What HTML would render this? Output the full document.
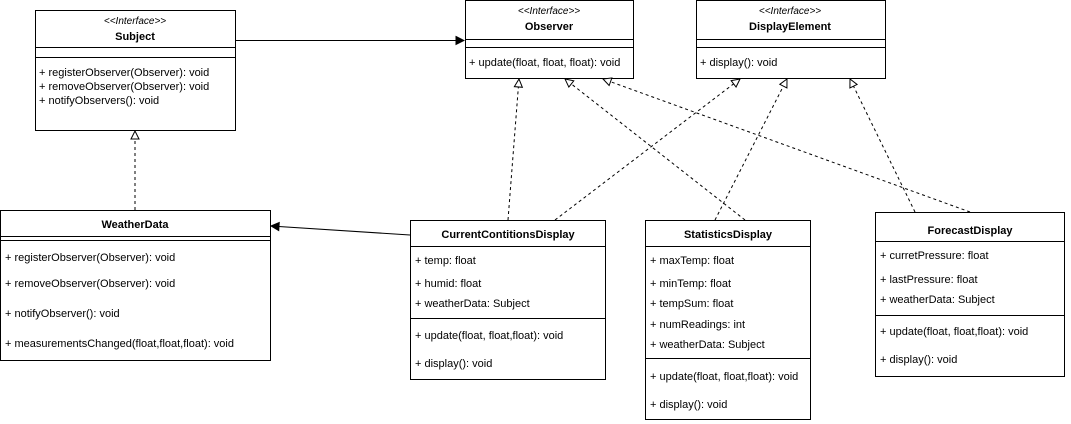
<!DOCTYPE html>
<html><head><meta charset="utf-8"><style>
body{margin:0;background:#fff;}
svg{display:block;font-family:"Liberation Sans",Arial,sans-serif;font-size:11px;}
</style></head><body>
<svg width="1071" height="424" viewBox="0 0 1071 424">
<defs>
<marker id="tri" markerWidth="10" markerHeight="10" refX="9" refY="5" orient="auto" markerUnits="userSpaceOnUse"><path d="M1,1 L9,5 L1,9 Z" fill="#fff" stroke="#000"/></marker>
<marker id="fill" markerWidth="10" markerHeight="10" refX="9" refY="5" orient="auto" markerUnits="userSpaceOnUse"><path d="M1,1 L9,5 L1,9 Z" fill="#000" stroke="#000"/></marker>
</defs>
<g fill="#fff" stroke="#000" stroke-width="1">
<rect x="35.5" y="10.5" width="200" height="120"/>
<rect x="465.5" y="0.5" width="168" height="78"/>
<rect x="696.5" y="0.5" width="189" height="78"/>
<rect x="0.5" y="210.5" width="270" height="150"/>
<rect x="410.5" y="220.5" width="195" height="159"/>
<rect x="645.5" y="220.5" width="165" height="199"/>
<rect x="875.5" y="212.5" width="189" height="164"/>
</g>
<g stroke="#000" stroke-width="1">
<line x1="35" y1="47.5" x2="235" y2="47.5"/><line x1="35" y1="57.5" x2="235" y2="57.5"/>
<line x1="465" y1="39.5" x2="633" y2="39.5"/><line x1="465" y1="47.5" x2="633" y2="47.5"/>
<line x1="696" y1="39.5" x2="885" y2="39.5"/><line x1="696" y1="47.5" x2="885" y2="47.5"/>
<line x1="0" y1="236.5" x2="270" y2="236.5"/><line x1="0" y1="240.5" x2="270" y2="240.5"/>
<line x1="410" y1="246.5" x2="605" y2="246.5"/><line x1="410" y1="318.5" x2="605" y2="318.5"/>
<line x1="645" y1="246.5" x2="810" y2="246.5"/><line x1="645" y1="358.5" x2="810" y2="358.5"/>
<line x1="875" y1="241.5" x2="1064" y2="241.5"/><line x1="875" y1="315.5" x2="1064" y2="315.5"/>
<line x1="235" y1="40.5" x2="464" y2="40.5" marker-end="url(#fill)"/>
<line x1="410" y1="235" x2="271" y2="226" marker-end="url(#fill)"/>
</g>
<g stroke="#000" stroke-width="1" stroke-dasharray="3,3" fill="none">
<line x1="135" y1="210" x2="135" y2="131" marker-end="url(#tri)"/>
<line x1="508" y1="220" x2="519" y2="79" marker-end="url(#tri)"/>
<line x1="745" y1="220" x2="565" y2="79" marker-end="url(#tri)"/>
<line x1="970" y1="212" x2="603" y2="79" marker-end="url(#tri)"/>
<line x1="555" y1="220" x2="740" y2="79" marker-end="url(#tri)"/>
<line x1="715" y1="220" x2="787" y2="79" marker-end="url(#tri)"/>
<line x1="915" y1="212" x2="850" y2="79" marker-end="url(#tri)"/>
</g>
<g fill="#000">
<text x="135" y="24" text-anchor="middle" font-style="italic" font-size="10">&lt;&lt;Interface&gt;&gt;</text>
<text x="135" y="40" text-anchor="middle" font-weight="bold">Subject</text>
<text x="39" y="76">+ registerObserver(Observer): void</text>
<text x="39" y="90">+ removeObserver(Observer): void</text>
<text x="39" y="104">+ notifyObservers(): void</text>
<text x="549" y="14" text-anchor="middle" font-style="italic" font-size="10">&lt;&lt;Interface&gt;&gt;</text>
<text x="549" y="30" text-anchor="middle" font-weight="bold">Observer</text>
<text x="469" y="66">+ update(float, float, float): void</text>
<text x="790" y="14" text-anchor="middle" font-style="italic" font-size="10">&lt;&lt;Interface&gt;&gt;</text>
<text x="790" y="30" text-anchor="middle" font-weight="bold">DisplayElement</text>
<text x="700" y="66">+ display(): void</text>
<text x="135" y="228" text-anchor="middle" font-weight="bold">WeatherData</text>
<text x="5" y="261">+ registerObserver(Observer): void</text>
<text x="5" y="287">+ removeObserver(Observer): void</text>
<text x="5" y="317">+ notifyObserver(): void</text>
<text x="5" y="347">+ measurementsChanged(float,float,float): void</text>
<text x="508" y="238" text-anchor="middle" font-weight="bold">CurrentContitionsDisplay</text>
<text x="415" y="264">+ temp: float</text>
<text x="415" y="287">+ humid: float</text>
<text x="415" y="307">+ weatherData: Subject</text>
<text x="415" y="339">+ update(float, float,float): void</text>
<text x="415" y="367">+ display(): void</text>
<text x="728" y="238" text-anchor="middle" font-weight="bold">StatisticsDisplay</text>
<text x="650" y="264">+ maxTemp: float</text>
<text x="650" y="287">+ minTemp: float</text>
<text x="650" y="307">+ tempSum: float</text>
<text x="650" y="328">+ numReadings: int</text>
<text x="650" y="348">+ weatherData: Subject</text>
<text x="650" y="380">+ update(float, float,float): void</text>
<text x="650" y="408">+ display(): void</text>
<text x="970" y="234" text-anchor="middle" font-weight="bold">ForecastDisplay</text>
<text x="880" y="259">+ curretPressure: float</text>
<text x="880" y="283">+ lastPressure: float</text>
<text x="880" y="303">+ weatherData: Subject</text>
<text x="880" y="335">+ update(float, float,float): void</text>
<text x="880" y="363">+ display(): void</text>
</g>
</svg>
</body></html>
